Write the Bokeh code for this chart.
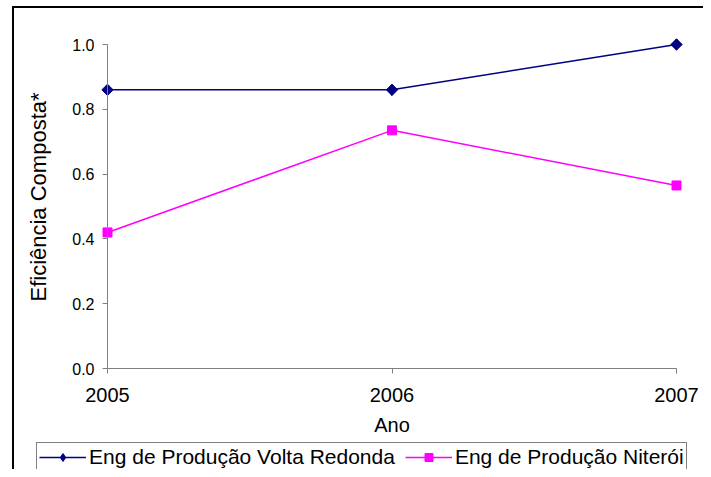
from math import pi
from bokeh.plotting import figure
from bokeh.layouts import column
from bokeh.models import (Legend, LegendItem, FixedTicker, PrintfTickFormatter,
                          Range1d, LinearAxis, Div)
from bokeh.core.properties import value
from bokeh.embed import file_html
from bokeh.resources import INLINE

# ---- data ----
years = [2005, 2006, 2007]
year_ticks = [2005, 2006, 2007]
volta_redonda = [0.86, 0.86, 1.0]
niteroi = [0.42, 0.735, 0.565]
y_ticks = [0.0, 0.2, 0.4, 0.6, 0.8, 1.0]
series_names = ["Eng de Produção Volta Redonda", "Eng de Produção Niterói"]
colors = ["#000080", "#FF00FF"]

FONT = "Liberation Sans"
AXIS_GRAY = "#808080"
W, H = 689, 461
# pixel layout of the plotting area inside the canvas
X0_PX, X1_PX = 93, 662      # x of 2005 and 2007
Y1_PX, Y0_PX = 36, 360      # y of 1.0 and 0.0 (from top)
xs = (X1_PX - X0_PX) / 2.0
ys = (Y0_PX - Y1_PX) / 1.0

p = figure(width=W, height=H, output_backend="svg", toolbar_location=None,
           x_range=Range1d(2005 - X0_PX / xs, 2007 + (W - X1_PX) / xs),
           y_range=Range1d(0 - (H - Y0_PX) / ys, 1.0 + Y1_PX / ys),
           min_border_left=0, min_border_right=0, min_border_top=0,
           min_border_bottom=0)
p.xgrid.visible = False
p.ygrid.visible = False
p.outline_line_color = None

for ax in (p.xaxis[0], p.yaxis[0]):
    ax.axis_line_color = AXIS_GRAY
    ax.major_tick_line_color = AXIS_GRAY
    ax.major_tick_out = 5
    ax.major_tick_in = 0
    ax.minor_tick_out = 0
    ax.minor_tick_in = 0
    ax.major_label_text_font = FONT
    ax.axis_label_text_font = FONT
    ax.axis_label_text_font_style = "normal"
    ax.axis_label_text_color = "black"
    ax.major_label_text_color = "black"

p.yaxis.ticker = FixedTicker(ticks=y_ticks)
p.yaxis.formatter = PrintfTickFormatter(format="%.1f")
p.yaxis.bounds = (0, 1.0)
p.yaxis.fixed_location = 2005
p.yaxis.major_label_text_font_size = "16px"
p.yaxis.major_label_standoff = 8

p.xaxis.ticker = FixedTicker(ticks=year_ticks)
p.xaxis.bounds = (2005, 2007)
p.xaxis.fixed_location = 0
p.xaxis.major_label_text_font_size = "20px"
p.xaxis.major_label_standoff = 14
p.xaxis.axis_label = "Ano"
p.xaxis.axis_label_text_font_size = "20px"
p.xaxis.axis_label_standoff = 9

# y-axis title (centred on the plot area like the original)
ytitle = LinearAxis(fixed_location=2005, ticker=FixedTicker(ticks=[]),
                    bounds=(0, 1.06), axis_line_color=None,
                    major_tick_line_color=None, minor_tick_line_color=None,
                    major_tick_out=0, major_tick_in=0, minor_tick_out=0,
                    minor_tick_in=0, major_label_standoff=0,
                    axis_label="Eficiência Composta*", axis_label_text_font=FONT,
                    axis_label_text_font_size="22px",
                    axis_label_text_font_style="normal",
                    axis_label_text_color="black", axis_label_standoff=57)
p.add_layout(ytitle, "left")

l1 = p.line(years, volta_redonda, line_color=colors[0], line_width=1.5)
# diamond (used for the legend swatch), covered by the rotated square below
k1 = p.scatter(years, volta_redonda, marker="diamond", size=11,
               fill_color=colors[0], line_color=colors[0])
p.scatter(years, volta_redonda, marker="square", angle=pi / 4, size=8,
          fill_color=colors[0], line_color=colors[0])
l2 = p.line(years, niteroi, line_color=colors[1], line_width=1.5)
s2 = p.scatter(years, niteroi, marker="square", size=9,
               fill_color=colors[1], line_color=colors[1])

legend = Legend(items=[LegendItem(label=value(series_names[0]), renderers=[l1, k1]),
                       LegendItem(label=value(series_names[1]), renderers=[l2, s2])],
                location=(22, -3), orientation="horizontal",
                padding=2, spacing=10, glyph_width=47, glyph_height=20,
                label_standoff=3, label_height=23,
                label_text_font=FONT, label_text_font_size="21px",
                label_text_color="black",
                border_line_color="black", border_line_width=1,
                background_fill_color="white", background_fill_alpha=1.0,
                margin=0)
p.add_layout(legend)

topline = Div(text="", width=W, height=2, margin=(0, 0, 0, 0),
              styles={"background-color": "black"})
inner = column(topline, p, spacing=0,
               styles={"border-left": "2px solid black"})
root = column(inner, spacing=0,
              styles={"padding-top": "6px", "padding-left": "12px"})

open("out.html", "w").write(file_html(root, INLINE))
